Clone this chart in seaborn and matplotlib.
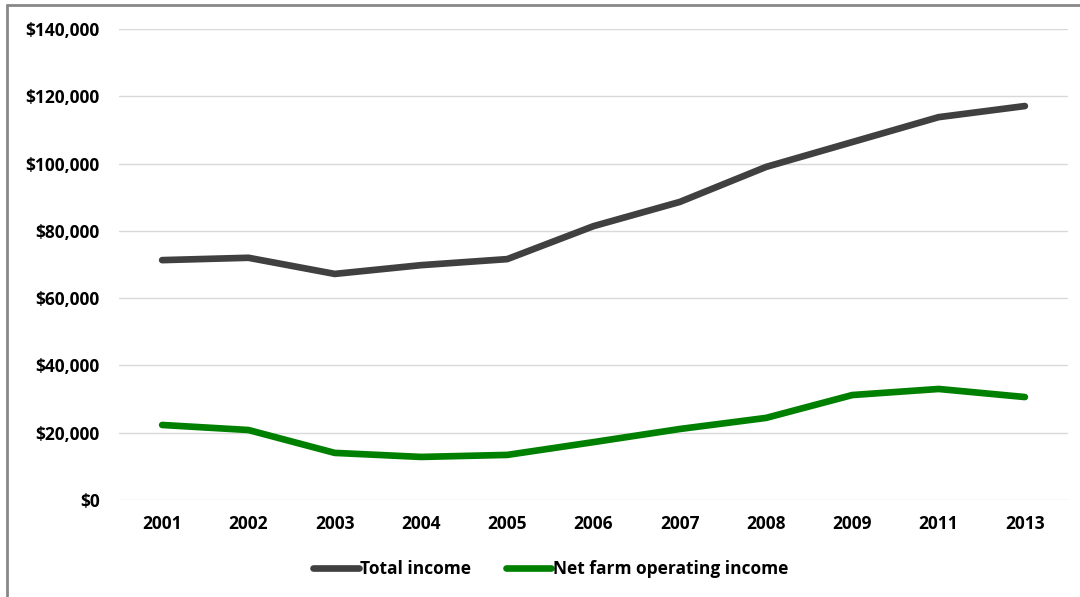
import matplotlib
matplotlib.use("Agg")
import matplotlib.pyplot as plt
import seaborn as sns
import pandas as pd
from matplotlib.lines import Line2D
from matplotlib.ticker import FuncFormatter

years = ["2001", "2002", "2003", "2004", "2005", "2006", "2007", "2008", "2009", "2011", "2013"]
total_income = [71300, 72000, 67200, 69800, 71600, 81400, 88600, 99000, 106400, 113800, 117100]
net_farm_income = [22300, 20800, 14000, 12800, 13400, 17200, 21100, 24400, 31200, 33000, 30600]
series_names = ["Total income", "Net farm operating income"]
colors = ["#404040", "#008000"]

df = pd.DataFrame({
    "year": years * 2,
    "value": total_income + net_farm_income,
    "series": [series_names[0]] * len(years) + [series_names[1]] * len(years),
})

sns.set_theme(style="white")
plt.rcParams["font.family"] = ["Open Sans", "DejaVu Sans"]
plt.rcParams["font.weight"] = "bold"
FS = 12.5

fig = plt.figure(figsize=(10.8, 5.97), dpi=100)
ax = fig.add_axes([0.1102, 0.1625, 0.8787, 0.7889])

sns.lineplot(data=df, x="year", y="value", hue="series", palette=colors,
             linewidth=4.8, ax=ax, legend=False, sort=False)
for ln in ax.lines:
    ln.set_solid_capstyle("round")
    ln.set_solid_joinstyle("round")

ax.set_xlim(-0.5, len(years) - 0.5)
ax.set_ylim(0, 140000)
ax.set_yticks(range(0, 140001, 20000))
ax.yaxis.set_major_formatter(FuncFormatter(lambda v, p: f"${int(v):,}"))
ax.grid(axis="y", color="#d9d9d9", linewidth=1)
ax.set_axisbelow(True)
for s in ax.spines.values():
    s.set_visible(False)
ax.set_xlabel("")
ax.set_ylabel("")
ax.tick_params(axis="both", length=0, labelsize=FS, labelcolor="black")
ax.tick_params(axis="y", pad=14)
ax.tick_params(axis="x", pad=11)
for t in ax.get_xticklabels() + ax.get_yticklabels():
    t.set_fontweight("bold")

handles = [Line2D([0], [0], color=c, lw=4.8, solid_capstyle="round") for c in colors]
fig.legend(handles, series_names, loc="center", bbox_to_anchor=(0.51, 0.047), ncol=2,
           frameon=False, handlelength=2.6, handletextpad=0.1, labelcolor="black",
           columnspacing=2.0, prop={"weight": "bold", "size": FS})

# figure border (left and top visible)
fig.add_artist(Line2D([0.0065, 0.0065], [0, 0.992], transform=fig.transFigure, color="#888888", lw=2))
fig.add_artist(Line2D([0.0065, 1.0], [0.992, 0.992], transform=fig.transFigure, color="#888888", lw=2))

fig.savefig("out.png", dpi=100)
